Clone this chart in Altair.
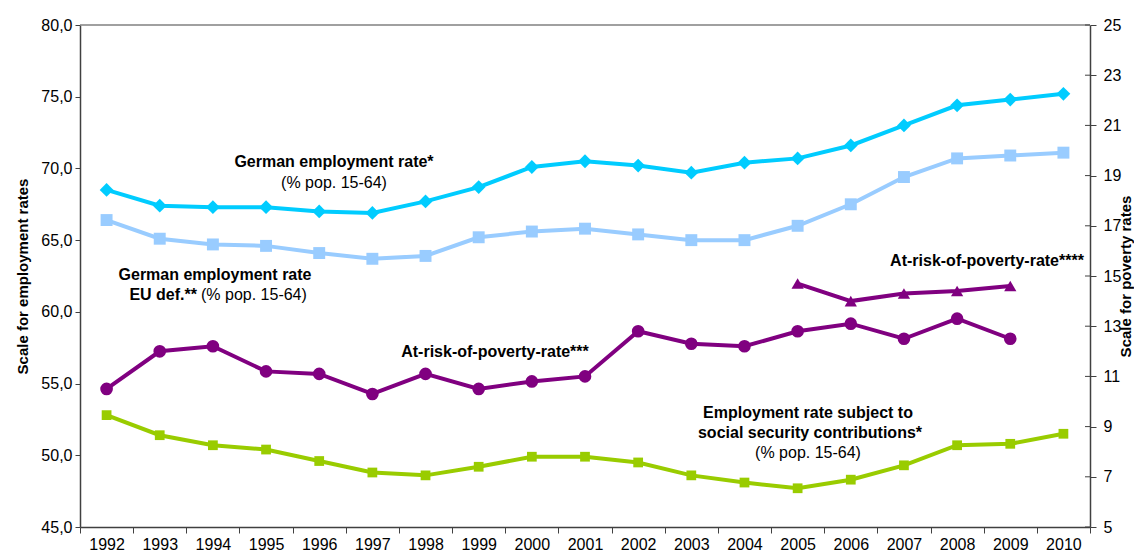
import altair as alt
import pandas as pd

years = [str(y) for y in range(1992, 2011)]
emp_german = [68.5, 67.4, 67.3, 67.3, 67.0, 66.9, 67.7, 68.7, 70.1, 70.5, 70.2, 69.7, 70.4, 70.7, 71.6, 73.0, 74.4, 74.8, 75.2]
emp_eu_def = [66.4, 65.1, 64.7, 64.6, 64.1, 63.7, 63.9, 65.2, 65.6, 65.8, 65.4, 65.0, 65.0, 66.0, 67.5, 69.4, 70.7, 70.9, 71.1]
emp_social = [52.8, 51.4, 50.7, 50.4, 49.6, 48.8, 48.6, 49.2, 49.9, 49.9, 49.5, 48.6, 48.1, 47.7, 48.3, 49.3, 50.7, 50.8, 51.5]
pov_years_a = years[:18]
pov_rate_a = [10.5, 12.0, 12.2, 11.2, 11.1, 10.3, 11.1, 10.5, 10.8, 11.0, 12.8, 12.3, 12.2, 12.8, 13.1, 12.5, 13.3, 12.5]
pov_years_b = ["2005", "2006", "2007", "2008", "2009"]
pov_rate_b = [14.7, 14.0, 14.3, 14.4, 14.6]
left_ticks = [45, 50, 55, 60, 65, 70, 75, 80]
right_ticks = [5, 7, 9, 11, 13, 15, 17, 19, 21, 23, 25]

FONT = "Liberation Sans"
W, H = 1010, 502
AXIS_COLOR = "#404040"

emp_series = ["emp_german", "emp_eu", "emp_social"]
emp_colors = ["#00CCFF", "#99CCFF", "#99CC00"]
emp_shapes = ["diamond", "square", "square"]
emp_sizes = [190, 95, 95]

emp_df = pd.concat([
    pd.DataFrame({"year": years, "value": emp_german, "series": "emp_german"}),
    pd.DataFrame({"year": years, "value": emp_eu_def, "series": "emp_eu"}),
    pd.DataFrame({"year": years, "value": emp_social, "series": "emp_social"}),
])
pov_df = pd.concat([
    pd.DataFrame({"year": pov_years_a, "value": pov_rate_a, "series": "pov_a"}),
    pd.DataFrame({"year": pov_years_b, "value": pov_rate_b, "series": "pov_b"}),
])
rtick_df = pd.DataFrame({"value": right_ticks})

x_axis = alt.Axis(
    title=None, labelAngle=0, labelFont=FONT, labelFontSize=16, labelColor="#000000",
    tickBand="extent", tickSize=6, labelPadding=3, domainColor=AXIS_COLOR, domainWidth=1.5,
    tickColor=AXIS_COLOR, tickWidth=1, grid=False,
)
x_enc = alt.X("year:O", scale=alt.Scale(type="band", domain=years, paddingInner=0, paddingOuter=0), axis=x_axis)

left_scale = alt.Scale(domain=[45, 80], nice=False, zero=False)
right_scale = alt.Scale(domain=[5, 25], nice=False, zero=False)

left_axis = alt.Axis(
    title="Scale for employment rates", values=left_ticks,
    labelExpr="replace(format(datum.value, '.1f'), '.', ',')",
    labelFont=FONT, labelFontSize=16, labelColor="#000000", labelPadding=3,
    tickSize=5, tickColor=AXIS_COLOR, domainColor=AXIS_COLOR, domainWidth=1.5, grid=False,
    titleFont=FONT, titleFontSize=15, titleFontWeight="bold", titleColor="#000000",
    titleX=-58, titleY=H / 2, titleAngle=-90, titleAlign="center", titleBaseline="middle",
)
right_axis = alt.Axis(
    title="Scale for poverty rates", orient="right", values=right_ticks,
    labelFont=FONT, labelFontSize=16, labelColor="#000000", labelPadding=7,
    tickSize=6, tickColor=AXIS_COLOR, domainColor=AXIS_COLOR, domainWidth=1.5, grid=False,
    titleFont=FONT, titleFontSize=15, titleFontWeight="bold", titleColor="#000000",
    titleX=35, titleY=H / 2, titleAngle=-90, titleAlign="center", titleBaseline="middle",
)
y_left = alt.Y("value:Q", scale=left_scale, axis=left_axis)
y_right = alt.Y("value:Q", scale=right_scale, axis=right_axis)

color_emp = alt.Color("series:N", scale=alt.Scale(domain=emp_series, range=emp_colors), legend=None)
emp_lines = alt.Chart(emp_df).mark_line(strokeWidth=4).encode(
    x=x_enc, y=y_left, color=color_emp, detail="series:N"
)
emp_points = alt.Chart(emp_df).mark_point(filled=True, opacity=1).encode(
    x=x_enc, y=y_left, color=color_emp,
    shape=alt.Shape("series:N", scale=alt.Scale(domain=emp_series, range=emp_shapes), legend=None),
    size=alt.Size("series:N", scale=alt.Scale(domain=emp_series, range=emp_sizes), legend=None),
)
left_layer = alt.layer(emp_lines, emp_points)

purple = "#800080"
pov_lines = alt.Chart(pov_df).mark_line(strokeWidth=4, color=purple).encode(
    x=x_enc, y=y_right, detail="series:N"
)
pov_points = alt.Chart(pov_df).mark_point(filled=True, opacity=1, color=purple).encode(
    x=x_enc, y=y_right,
    shape=alt.Shape("series:N", scale=alt.Scale(domain=["pov_a", "pov_b"], range=["circle", "triangle-up"]), legend=None),
    size=alt.Size("series:N", scale=alt.Scale(domain=["pov_a", "pov_b"], range=[160, 150]), legend=None),
)
# inner half of the crossing ticks on the right axis
right_inner_ticks = alt.Chart(rtick_df).mark_rule(color=AXIS_COLOR, strokeWidth=1).encode(
    x=alt.value(W - 5), x2=alt.value(W), y=y_right
)
right_layer = alt.layer(right_inner_ticks, pov_lines, pov_points)

one = alt.Data(values=[{"a": 1}])

def label(txt, px, py, bold=True, align="center"):
    return alt.Chart(one).mark_text(
        text=txt, font=FONT, fontSize=16, fontWeight="bold" if bold else "normal",
        color="#000000", align=align, baseline="middle",
    ).encode(x=alt.value(px), y=alt.value(py))

top_rule = alt.Chart(one).mark_rule(color="#808080", strokeWidth=1.5).encode(
    x=alt.value(0), x2=alt.value(W), y=alt.value(0)
)

texts = [
    label("German employment rate*", 254, 137),
    label("(% pop. 15-64)", 254, 158, bold=False),
    label("German employment rate", 135, 250),
    label("EU def.**", 117, 270, align="right"),
    label("(% pop. 15-64)", 121, 270, bold=False, align="left"),
    label("At-risk-of-poverty-rate***", 415, 327),
    label("Employment rate subject to", 728, 388),
    label("social security contributions*", 730, 408),
    label("(% pop. 15-64)", 728, 428, bold=False),
    label("At-risk-of-poverty-rate****", 907, 236),
]

chart = alt.layer(top_rule, left_layer, right_layer, *texts).resolve_scale(
    y="independent", color="independent", shape="independent", size="independent"
).properties(
    width=W, height=H,
    autosize=alt.AutoSizeParams(type="none"),
    padding={"left": 72, "top": 17, "right": 44, "bottom": 24},
).configure_view(stroke=None)

chart.save("out.html", embed_options={"renderer": "svg", "actions": False})
